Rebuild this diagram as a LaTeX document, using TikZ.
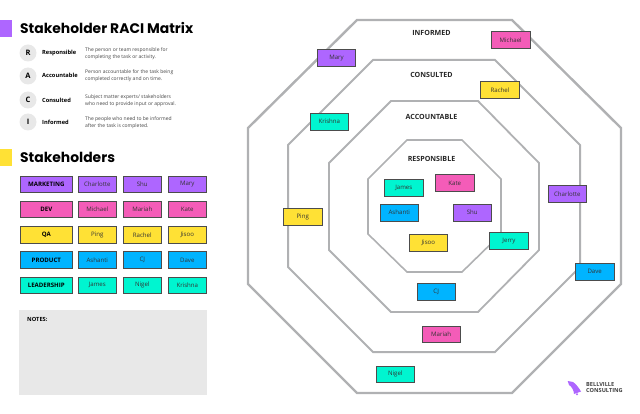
\documentclass[tikz,border=0pt]{standalone}
\usepackage{fontspec}
\setmainfont{Open Sans}
\newfontfamily\headfont{Poppins}
\usepackage{tikz}
\usetikzlibrary{positioning}

\definecolor{raciPurple}{HTML}{AE66FF}
\definecolor{raciPink}{HTML}{F45CB8}
\definecolor{raciYellow}{HTML}{FFE135}
\definecolor{raciBlue}{HTML}{00B4FF}
\definecolor{raciTeal}{HTML}{00F5D0}
\definecolor{ringGray}{HTML}{B0B1B3}
\definecolor{noteGray}{HTML}{E8E8E8}
\definecolor{bodyGray}{HTML}{444444}

\tikzset{
  ring/.style={draw=ringGray,line join=miter},
  tag/.style={draw=black!70,line width=0.6pt,minimum width=38.5pt,minimum height=16.8pt,inner sep=0pt,font=\fontsize{6.1}{7}\selectfont,text=black!80},
  grouptag/.style={tag,minimum width=51.5pt,font=\fontsize{6.1}{7}\selectfont\bfseries,text=black},
  ringlabel/.style={font=\fontsize{7.1}{8}\selectfont\bfseries,text=black!85},
  letter/.style={circle,fill=noteGray,minimum size=17pt,inner sep=0pt,font=\fontsize{7.5}{8}\selectfont\bfseries},
  rolename/.style={anchor=west,inner sep=0pt,font=\fontsize{5.7}{7}\selectfont\bfseries},
  roletext/.style={anchor=west,inner sep=0pt,align=left,text=bodyGray,font=\fontsize{5}{7.2}\selectfont},
  heading/.style={anchor=west,inner sep=0pt,font=\headfont\fontsize{13.9}{16}\selectfont\bfseries}
}

\begin{document}
\begin{tikzpicture}[x=1pt,y=-1pt]
\useasboundingbox (0,0) rectangle (640,414);

% Rings, outermost first
\draw[ring,line width=2.4pt] (357,20) -- (512,20) -- (621,128) -- (621,284) -- (512,393) -- (357,393) -- (248,284) -- (248,128) -- cycle;
\draw[ring,line width=2pt] (373,60) -- (495,60) -- (580,145) -- (580,267) -- (495,352) -- (373,352) -- (288,267) -- (288,145) -- cycle;
\draw[ring,line width=1.8pt] (391,101) -- (478,101) -- (539,163) -- (539,250) -- (478,312) -- (391,312) -- (329,250) -- (329,163) -- cycle;
\draw[ring,line width=1.6pt] (407,140) -- (462,140) -- (501,179) -- (501,234) -- (462,272) -- (407,272) -- (368,234) -- (368,179) -- cycle;

\node[ringlabel] (informed) at (431.5,33) {INFORMED};
\node[ringlabel] (consulted) at (431.5,75) {CONSULTED};
\node[ringlabel] (accountable) at (431.5,117) {ACCOUNTABLE};
\node[ringlabel] (responsible) at (431.5,159) {RESPONSIBLE};

% People placed on the rings
\node[tag,fill=raciPurple] (mary) at (336.5,57.7) {Mary};
\node[tag,fill=raciTeal] (krishna) at (329.3,121.7) {Krishna};
\node[tag,fill=raciPink] (michael) at (510.7,40) {Michael};
\node[tag,fill=raciYellow] (rachel) at (500,90) {Rachel};
\node[tag,fill=raciPurple] (charlotte) at (567.3,193.8) {Charlotte};
\node[tag,fill=raciTeal] (james) at (403.8,187.6) {James};
\node[tag,fill=raciPink] (kate) at (454.8,183.2) {Kate};
\node[tag,fill=raciBlue] (ashanti) at (399.3,212.5) {Ashanti};
\node[tag,fill=raciPurple] (shu) at (472.3,212.5) {Shu};
\node[tag,fill=raciYellow] (jisoo) at (428.3,242.5) {Jisoo};
\node[tag,fill=raciTeal] (jerry) at (509,241) {Jerry};
\node[tag,fill=raciYellow] (ping) at (302.7,216.5) {Ping};
\node[tag,fill=raciBlue] (cj) at (436.2,291.8) {CJ};
\node[tag,fill=raciPink] (mariah) at (441.2,334.2) {Mariah};
\node[tag,fill=raciTeal] (nigel) at (395.3,374.2) {Nigel};
\node[tag,fill=raciBlue] (dave) at (594.7,271.5) {Dave};

% RACI legend
\fill[raciPurple] (0,20) rectangle (12,37);
\node[heading] (title) at (20,28) {Stakeholder RACI Matrix};

\node[letter] (letterR) at (28,53) {R};
\node[letter] (letterA) at (28,76) {A};
\node[letter] (letterC) at (28,100) {C};
\node[letter] (letterI) at (28,122) {I};

\node[rolename] (nameR) at (42,53) {Responsible};
\node[rolename] (nameA) at (42,75) {Accountable};
\node[rolename] (nameC) at (42,100) {Consulted};
\node[rolename] (nameI) at (42,122) {Informed};

\node[roletext] (textR) at (85,53.5) {The person or team responsible for\\completing the task or activity.};
\node[roletext] (textA) at (85,75.5) {Person accountable for the task being\\completed correctly and on time.};
\node[roletext] (textC) at (85,100.5) {Subject matter experts/ stakeholders\\who need to provide input or approval.};
\node[roletext] (textI) at (85,122.5) {The people who need to be informed\\after the task is completed.};

% Stakeholder table
\fill[raciYellow] (0,149) rectangle (12,166);
\node[heading] (stakeholders) at (20,157) {Stakeholders};

\node[grouptag,fill=raciPurple] (marketing) at (46.3,184.3) {MARKETING};
\node[tag,fill=raciPurple] (rowCharlotte) at (97.3,184.3) {Charlotte};
\node[tag,fill=raciPurple] (rowShu) at (142.3,184.3) {Shu};
\node[tag,fill=raciPurple] (rowMary) at (187.3,184.3) {Mary};

\node[grouptag,fill=raciPink] (dev) at (46.3,209.3) {DEV};
\node[tag,fill=raciPink] (rowMichael) at (97.3,209.3) {Michael};
\node[tag,fill=raciPink] (rowMariah) at (142.3,209.3) {Mariah};
\node[tag,fill=raciPink] (rowKate) at (187.3,209.3) {Kate};

\node[grouptag,fill=raciYellow] (qa) at (46.3,235) {QA};
\node[tag,fill=raciYellow] (rowPing) at (97.3,235) {Ping};
\node[tag,fill=raciYellow] (rowRachel) at (142.3,235) {Rachel};
\node[tag,fill=raciYellow] (rowJisoo) at (187.3,235) {Jisoo};

\node[grouptag,fill=raciBlue] (product) at (46.3,260) {PRODUCT};
\node[tag,fill=raciBlue] (rowAshanti) at (97.3,260) {Ashanti};
\node[tag,fill=raciBlue] (rowCJ) at (142.3,260) {CJ};
\node[tag,fill=raciBlue] (rowDave) at (187.3,260) {Dave};

\node[grouptag,fill=raciTeal] (leadership) at (46.3,285.3) {LEADERSHIP};
\node[tag,fill=raciTeal] (rowJames) at (97.3,285.3) {James};
\node[tag,fill=raciTeal] (rowNigel) at (142.3,285.3) {Nigel};
\node[tag,fill=raciTeal] (rowKrishna) at (187.3,285.3) {Krishna};

% Notes panel
\fill[noteGray] (19,310) rectangle (207,395);
\node[rolename] (notes) at (27,319.5) {NOTES:};

% Logo
\fill[raciPurple] (567.7,381) -- (573,382) .. controls (576,384) and (579,388) .. (581,391.5) -- (574,394) .. controls (574,390) and (571,386) .. (569,385) -- cycle;
\fill[raciPurple] (577,394.2) circle (1.1pt);
\node[rolename,font=\fontsize{5.6}{6.6}\selectfont\bfseries,align=left,text=black!75] (logo) at (586,387.5) {BELLVILLE\\CONSULTING};

\end{tikzpicture}
\end{document}
